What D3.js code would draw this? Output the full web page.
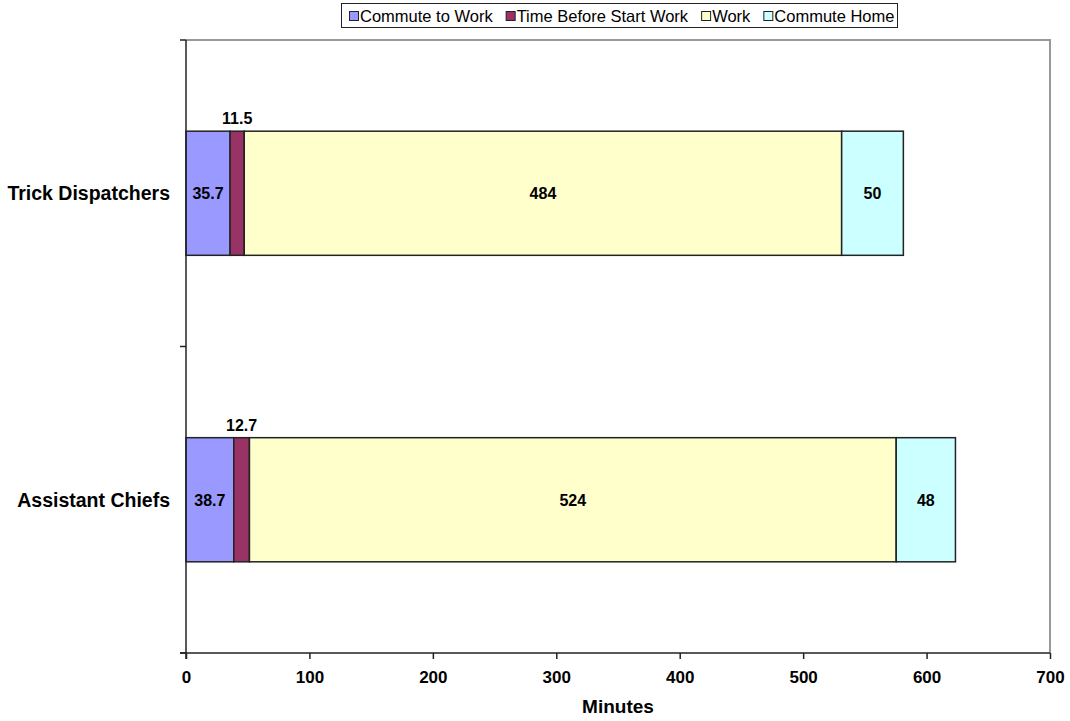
<!DOCTYPE html>
<html>
<head>
<meta charset="utf-8">
<script src="https://cdn.jsdelivr.net/npm/d3@7"></script>
<style>
body { margin: 0; background: #fff; }
text { font-family: "Liberation Sans", Arial, sans-serif; }
</style>
</head>
<body>
<svg id="chart" width="1070" height="721"></svg>
<script>
// data
var categories = ["Trick Dispatchers", "Assistant Chiefs"];
var seriesNames = ["Commute to Work", "Time Before Start Work", "Work", "Commute Home"];
var seriesColors = ["#9999ff", "#993366", "#ffffcc", "#ccffff"];
var commuteToWork = [35.7, 38.7];
var timeBeforeStart = [11.5, 12.7];
var work = [484, 524];
var commuteHome = [50, 48];
var xTicks = [0, 100, 200, 300, 400, 500, 600, 700];

var plotLeft = 186, plotRight = 1050, plotTop = 40, plotBottom = 653;

var svg = d3.select("#chart");

var x = d3.scaleLinear().domain([0, 700]).range([plotLeft, plotRight]);
var y = d3.scaleBand().domain(categories).range([plotTop, plotBottom]).paddingInner(0.595).paddingOuter(0.2975);

// stack it
var rows = categories.map(function(c, i) {
    return { cat: c, vals: [commuteToWork[i], timeBeforeStart[i], work[i], commuteHome[i]] };
});

// plot area border (gray top/right)
svg.append("path")
    .attr("d", "M" + plotLeft + "," + plotTop + "H" + plotRight + "V" + plotBottom)
    .attr("fill", "none")
    .attr("stroke", "#999")
    .attr("stroke-width", 2);

rows.forEach(function(r) {
    var acc = 0;
    var g = svg.append("g");
    r.vals.forEach(function(v, j) {
	var x0 = x(acc), x1 = x(acc + v);
	g.append("rect")
	    .attr("x", x0)
	    .attr("y", y(r.cat))
	    .attr("width", x1 - x0)
	    .attr("height", y.bandwidth())
	    .attr("fill", seriesColors[j])
	    .attr("stroke", "#222")
	    .attr("stroke-width", 1.5);
	var small = (x1 - x0) < 30; // label goes above the bar
	g.append("text")
	    .attr("x", (x0 + x1) / 2)
	    .attr("y", small ? y(r.cat) - 7 : y(r.cat) + y.bandwidth() / 2 + 6)
	    .attr("text-anchor", "middle")
	    .attr("font-size", 16)
	    .attr("font-weight", "bold")
	    .text(v);
	acc += v;
    });
});

// axes
var xAxis = svg.append("g")
    .attr("transform", "translate(0," + plotBottom + ")")
    .call(d3.axisBottom(x).tickValues(xTicks).tickSize(6).tickFormat(d3.format("d")));
xAxis.select(".domain").attr("stroke", "#222").attr("stroke-width", 1.5).attr("d", "M" + (plotLeft - 6) + ",0H" + plotRight);
xAxis.selectAll(".tick line").attr("stroke", "#222").attr("stroke-width", 1.5);
xAxis.selectAll(".tick text")
    .attr("y", 18)
    .attr("font-size", 17)
    .attr("font-weight", "bold")
    .attr("font-family", "Liberation Sans, Arial, sans-serif")
    .attr("fill", "#000");

// y axis line with ticks at band edges
var yEdges = [plotTop, (plotTop + plotBottom) / 2, plotBottom];
svg.append("line")
    .attr("x1", plotLeft).attr("x2", plotLeft)
    .attr("y1", plotTop).attr("y2", plotBottom + 6)
    .attr("stroke", "#222").attr("stroke-width", 1.5);
svg.selectAll(".ytick").data(yEdges).enter().append("line")
    .attr("x1", plotLeft - 6).attr("x2", plotLeft)
    .attr("y1", function(d) { return d; }).attr("y2", function(d) { return d; })
    .attr("stroke", "#222").attr("stroke-width", 1.5);

svg.selectAll(".ylab").data(categories).enter().append("text")
    .attr("x", 170)
    .attr("y", function(d) { return y(d) + y.bandwidth() / 2 + 7; })
    .attr("text-anchor", "end")
    .attr("font-size", 19.5)
    .attr("font-weight", "bold")
    .text(function(d) { return d; });

svg.append("text")
    .attr("x", x(350))
    .attr("y", 713)
    .attr("text-anchor", "middle")
    .attr("font-size", 19)
    .attr("font-weight", "bold")
    .text("Minutes");

// legend
var legend = svg.append("g");
legend.append("rect")
    .attr("x", 341.5).attr("y", 3.5)
    .attr("width", 556).attr("height", 24)
    .attr("fill", "#fff").attr("stroke", "#222").attr("stroke-width", 1);
var lx = 349;
seriesNames.forEach(function(n, i) {
    legend.append("rect")
	.attr("x", lx + 0.5).attr("y", 11.5)
	.attr("width", 9).attr("height", 9)
	.attr("fill", seriesColors[i])
	.attr("stroke", "#222").attr("stroke-width", 1);
    var t = legend.append("text")
	.attr("x", lx + 11).attr("y", 21.5)
	.attr("font-size", 16.5)
	.text(n);
    lx += 11 + t.node().getComputedTextLength() + 13;
});
</script>
</body>
</html>
